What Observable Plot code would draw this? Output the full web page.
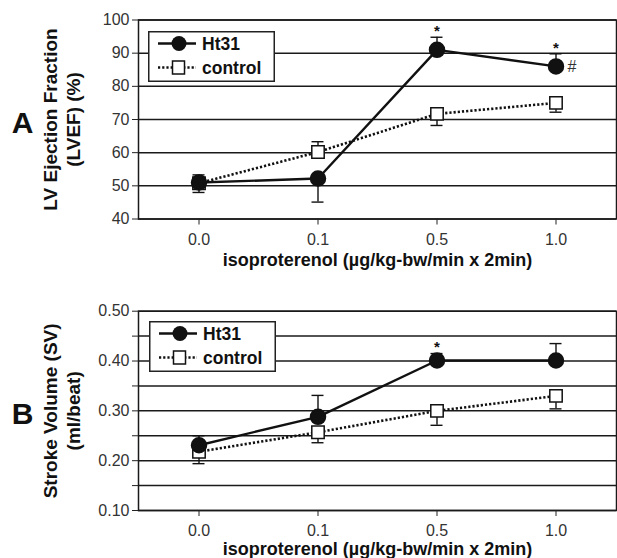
<!DOCTYPE html>
<html>
<head>
<meta charset="utf-8">
<script src="https://cdn.jsdelivr.net/npm/d3@7"></script>
<script src="https://cdn.jsdelivr.net/npm/@observablehq/plot@0.6"></script>
<style>
  html, body { margin: 0; padding: 0; background: #fff; }
  #wrap { position: relative; width: 617px; height: 558px; overflow: hidden; font-family: "Liberation Sans", Arial, sans-serif; }
  #wrap svg { display: block; }
  .legend { position: absolute; }
</style>
</head>
<body>
<div id="wrap"></div>
<script>
// ---- data ----
const doses = ["0.0", "0.1", "0.5", "1.0"];
const seriesNames = ["Ht31", "control"];

// Panel A: LV Ejection Fraction (%)
const lvefHt31 = [51.0, 52.2, 91.0, 86.0];
const lvefHt31BarEnd = [53.3, 45.1, 94.8, 89.8];
const lvefControl = [50.8, 60.2, 71.7, 75.0];
const lvefControlBarEnd = [48.0, 63.3, 68.2, 72.2];
const lvefStars = ["0.5", "1.0"];
const lvefHash = ["1.0"];
const lvefTicks = [40, 50, 60, 70, 80, 90, 100];

// Panel B: Stroke Volume (ml/beat)
const svHt31 = [0.231, 0.288, 0.401, 0.401];
const svHt31BarEnd = [0.250, 0.331, 0.415, 0.435];
const svControl = [0.218, 0.257, 0.300, 0.330];
const svControlBarEnd = [0.194, 0.236, 0.271, 0.304];
const svStars = ["0.5"];
const svTicks = [0.10, 0.15, 0.20, 0.25, 0.30, 0.35, 0.40, 0.45, 0.50];
const svTickLabels = ["0.10", "", "0.20", "", "0.30", "", "0.40", "", "0.50"];

const xLabel = "isoproterenol (\u00b5g/kg-bw/min x 2min)";
const yLabelA = "LV Ejection Fraction\n(LVEF) (%)";
const yLabelB = "Stroke Volume (SV)\n(ml/beat)";

const FONT = "'Liberation Sans', Arial, sans-serif";
const INK = "#111";

function rows(vals, ends) {
  return doses.map((d, i) => ({dose: d, v: vals[i], end: ends[i]}));
}

function panel({letter, yLabel, ht31, ht31End, ctrl, ctrlEnd, stars, hash, ticks, tickFormat, domain,
                height, marginTop, marginBottom, tickPadX, labelDy}) {
  const H = rows(ht31, ht31End);
  const C = rows(ctrl, ctrlEnd);
  const starRows = stars.map(s => H.find(r => r.dose === s));
  const hashRows = hash.map(s => H.find(r => r.dose === s));
  return Plot.plot({
    width: 617,
    height,
    marginLeft: 138,
    marginRight: 1,
    marginTop,
    marginBottom,
    style: {fontFamily: FONT, fontSize: "16px", color: INK, background: "#fff", overflow: "visible"},
    x: {type: "band", domain: doses, padding: 0, label: null},
    y: {domain, label: null},
    marks: [
      Plot.ruleY(ticks, {stroke: "#1a1a1a", strokeWidth: 1.5}),
      Plot.frame({stroke: "#1a1a1a", strokeWidth: 1.5}),
      Plot.axisY({ticks, tickFormat, tickSize: 6, tickPadding: 3, stroke: "#222", fill: "#333", fontSize: 16, label: null}),
      Plot.axisX({tickSize: 6, tickPadding: tickPadX, stroke: "#222", fill: "#333", fontSize: 16, label: null}),
      // lines
      Plot.line(C, {x: "dose", y: "v", stroke: INK, strokeWidth: 2.6, strokeDasharray: "2.2,2", strokeLinecap: "butt"}),
      Plot.line(H, {x: "dose", y: "v", stroke: INK, strokeWidth: 2.4}),
      // error bars
      Plot.ruleX(C, {x: "dose", y1: "v", y2: "end", stroke: INK, strokeWidth: 1.4}),
      Plot.tickY(C, {x: "dose", y: "end", stroke: INK, strokeWidth: 1.4, insetLeft: 53.5, insetRight: 53.5}),
      Plot.ruleX(H, {x: "dose", y1: "v", y2: "end", stroke: INK, strokeWidth: 1.4}),
      Plot.tickY(H, {x: "dose", y: "end", stroke: INK, strokeWidth: 1.4, insetLeft: 53.5, insetRight: 53.5}),
      // markers
      Plot.dot(C, {x: "dose", y: "v", symbol: "square", r: 7, fill: "#fff", stroke: INK, strokeWidth: 1.5}),
      Plot.dot(H, {x: "dose", y: "v", r: 7.5, fill: INK, stroke: INK}),
      // significance marks
      Plot.text(starRows, {x: "dose", y: "end", text: () => "*", dy: -6, fontSize: 15, fontWeight: "bold", fill: INK}),
      Plot.text(hashRows, {x: "dose", y: "v", text: () => "#", dx: 16, fontSize: 16, fill: "#333"}),
      // labels
      Plot.text([yLabel], {text: d => d, frameAnchor: "left", textAnchor: "middle", lineAnchor: "middle", rotate: -90, dx: -77, fontSize: 19, fontWeight: "bold", lineHeight: 1.2, fill: INK}),
      Plot.text([letter], {text: d => d, frameAnchor: "left", textAnchor: "middle", lineAnchor: "middle", dx: -116, dy: 4, fontSize: 30, fontWeight: "bold", fill: INK}),
      Plot.text([xLabel], {text: d => d, frameAnchor: "bottom", textAnchor: "middle", lineAnchor: "middle", dy: labelDy, fontSize: 18, fontWeight: "bold", fill: INK})
    ]
  });
}

const wrap = document.getElementById("wrap");

const plotA = panel({
  letter: "A", yLabel: yLabelA,
  ht31: lvefHt31, ht31End: lvefHt31BarEnd, ctrl: lvefControl, ctrlEnd: lvefControlBarEnd,
  stars: lvefStars, hash: lvefHash, ticks: lvefTicks, tickFormat: d => String(d), domain: [40, 100],
  height: 280, marginTop: 19.5, marginBottom: 61.5, tickPadX: 9, labelDy: 41.5
});
const plotB = panel({
  letter: "B", yLabel: yLabelB,
  ht31: svHt31, ht31End: svHt31BarEnd, ctrl: svControl, ctrlEnd: svControlBarEnd,
  stars: svStars, hash: [], ticks: svTicks, tickFormat: (d, i) => svTickLabels[i], domain: [0.10, 0.50],
  height: 278, marginTop: 30.7, marginBottom: 48, tickPadX: 8, labelDy: 39
});
wrap.appendChild(plotA);
wrap.appendChild(plotB);

// legends (inside plot frames)
function legend(left, top) {
  const svg = d3.select(wrap).append("svg")
    .attr("class", "legend")
    .attr("width", 128).attr("height", 52)
    .style("left", left + "px").style("top", top + "px");
  svg.append("rect").attr("x", 0.75).attr("y", 0.75).attr("width", 125.5).attr("height", 49.5)
    .attr("fill", "#fff").attr("stroke", "#222").attr("stroke-width", 1.5);
  const rowY = [12.5, 36.5];
  seriesNames.forEach((name, i) => {
    const g = svg.append("g").attr("transform", `translate(0,${rowY[i]})`);
    g.append("line").attr("x1", 10).attr("x2", 48).attr("y1", 0).attr("y2", 0)
      .attr("stroke", INK).attr("stroke-width", i === 0 ? 2.4 : 2.6)
      .attr("stroke-dasharray", i === 0 ? null : "2.2,2");
    if (i === 0) {
      g.append("circle").attr("cx", 31).attr("cy", 0).attr("r", 7.5).attr("fill", INK);
    } else {
      g.append("rect").attr("x", 24.5).attr("y", -6.5).attr("width", 12).attr("height", 13)
        .attr("fill", "#fff").attr("stroke", INK).attr("stroke-width", 1.5);
    }
    g.append("text").attr("x", 54).attr("y", 0).attr("dy", "0.36em")
      .attr("font-family", FONT).attr("font-size", 17.5).attr("font-weight", "bold")
      .attr("fill", INK).text(name);
  });
}
legend(148, 31);
legend(149, 321);
</script>
</body>
</html>
